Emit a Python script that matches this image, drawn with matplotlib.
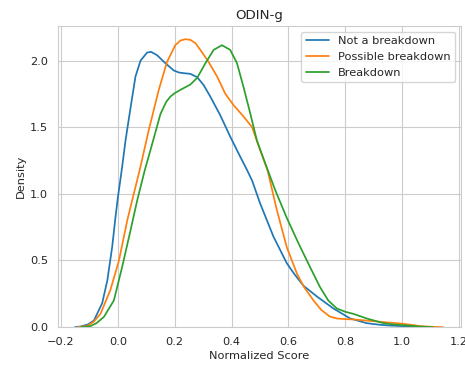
import matplotlib
matplotlib.use("Agg")
import matplotlib.pyplot as plt
import seaborn as sns

# Courbes de densité (score normalisé, densité)
x_not = [-0.15, -0.131, -0.105, -0.084, -0.055, -0.037, -0.02, -0.008, 0.0, 0.015, 0.027, 0.045,
         0.062, 0.08, 0.103, 0.117, 0.138, 0.167, 0.197, 0.215, 0.232, 0.255, 0.279, 0.302,
         0.325, 0.36, 0.395, 0.43, 0.454, 0.472, 0.5, 0.547, 0.594, 0.62, 0.653,
         0.7, 0.758, 0.817, 0.875, 0.92, 0.957, 1.0, 1.05, 1.1]
y_not = [0.0, 0.005, 0.02, 0.05, 0.18, 0.35, 0.6, 0.83, 0.97, 1.2, 1.4, 1.65,
         1.88, 2.0, 2.06, 2.065, 2.04, 1.98, 1.925, 1.91, 1.905, 1.9, 1.875, 1.815,
         1.73, 1.59, 1.43, 1.28, 1.18, 1.1, 0.93, 0.68, 0.48, 0.4, 0.31,
         0.23, 0.14, 0.065, 0.03, 0.018, 0.012, 0.008, 0.003, 0.0]

x_poss = [-0.14, -0.107, -0.085, -0.061, -0.026, 0.004, 0.033, 0.056, 0.077, 0.109, 0.144,
          0.173, 0.202, 0.22, 0.238, 0.255, 0.273, 0.29, 0.319, 0.349, 0.378, 0.407, 0.442,
          0.472, 0.5, 0.526, 0.559, 0.594, 0.63, 0.655, 0.688, 0.715, 0.745, 0.77, 0.8,
          0.828, 0.898, 0.95, 0.992, 1.03, 1.062, 1.1, 1.143]
y_poss = [0.0, 0.01, 0.04, 0.1, 0.28, 0.5, 0.8, 1.0, 1.18, 1.48, 1.78,
          1.99, 2.115, 2.15, 2.16, 2.155, 2.13, 2.08, 1.99, 1.88, 1.75, 1.665, 1.58,
          1.5, 1.33, 1.18, 0.88, 0.6, 0.4, 0.3, 0.2, 0.13, 0.08, 0.065, 0.06,
          0.058, 0.045, 0.035, 0.028, 0.018, 0.008, 0.003, 0.0]

x_brk = [-0.13, -0.096, -0.075, -0.049, -0.014, 0.015, 0.045, 0.068, 0.095, 0.115, 0.15,
         0.17, 0.185, 0.2, 0.22, 0.255, 0.279, 0.308, 0.337, 0.366, 0.395, 0.419, 0.442,
         0.466, 0.489, 0.518, 0.553, 0.594, 0.635, 0.676, 0.711, 0.74, 0.77, 0.8, 0.828,
         0.875, 0.934, 0.97, 1.015, 1.06, 1.108]
y_brk = [0.0, 0.008, 0.03, 0.077, 0.2, 0.45, 0.73, 0.95, 1.18, 1.33, 1.6,
         1.69, 1.73, 1.755, 1.78, 1.82, 1.87, 1.98, 2.08, 2.115, 2.08, 1.98, 1.8,
         1.6, 1.4, 1.23, 1.03, 0.82, 0.63, 0.45, 0.3, 0.2, 0.14, 0.115, 0.1,
         0.065, 0.03, 0.02, 0.013, 0.005, 0.0]

sns.set_style("whitegrid")
plt.rcParams["font.size"] = 8.2
plt.rcParams["axes.titlesize"] = 9.6

fig = plt.figure(figsize=(4.65, 3.68), dpi=100)
ax = fig.add_axes([0.124, 0.111, 0.867, 0.818])

ax.plot(x_not, y_not, color="#1f77b4", lw=1.25, label="Not a breakdown")
ax.plot(x_poss, y_poss, color="#ff7f0e", lw=1.25, label="Possible breakdown")
ax.plot(x_brk, y_brk, color="#2ca02c", lw=1.25, label="Breakdown")

ax.set_xlim(-0.2116, 1.206)
ax.set_ylim(0, 2.258)
ax.set_title("ODIN-g", pad=5)
ax.set_xlabel("Normalized Score", labelpad=3)
ax.set_ylabel("Density", labelpad=3)
ax.tick_params(labelsize=8.2)
ax.legend(loc="upper right", fontsize=8.2)

fig.savefig("out.png", dpi=100)
